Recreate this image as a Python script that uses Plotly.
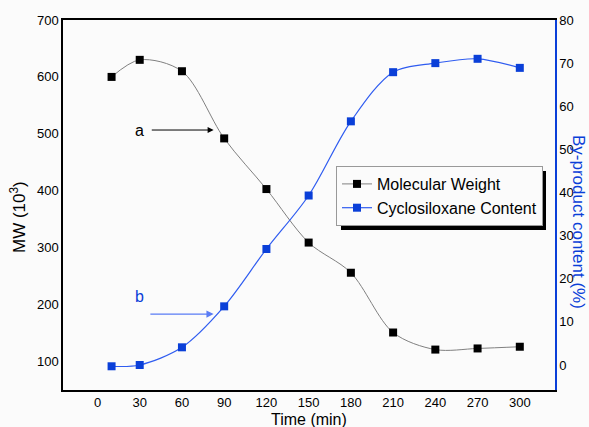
import plotly.graph_objects as go

time_min = [10, 30, 60, 90, 120, 150, 180, 210, 240, 270, 300]
mw = [600, 630, 610, 492, 403, 309, 256, 151, 121, 123, 126]
cyclo = [-0.3, 0, 4.1, 13.6, 26.9, 39.3, 56.5, 67.9, 70, 71, 68.9]

x_ticks = [0, 30, 60, 90, 120, 150, 180, 210, 240, 270, 300]
y1_ticks = [100, 200, 300, 400, 500, 600, 700]
y2_ticks = [0, 10, 20, 30, 40, 50, 60, 70, 80]

FONT = "Liberation Sans, Arial, sans-serif"
BLUE = "#0a3fd8"
BLUE_LINE = "#2f5cf0"

fig = go.Figure()
fig.add_trace(go.Scatter(
    x=time_min, y=mw, name="Molecular Weight", mode="lines+markers",
    line=dict(color="#808080", width=1, shape="spline", smoothing=0.9),
    marker=dict(symbol="square", size=8, color="black"),
    yaxis="y"))
fig.add_trace(go.Scatter(
    x=time_min, y=cyclo, name="Cyclosiloxane Content", mode="lines+markers",
    line=dict(color=BLUE_LINE, width=1.2, shape="spline", smoothing=0.9),
    marker=dict(symbol="square", size=8, color=BLUE),
    yaxis="y2"))

L, R, T, B = 63, 34, 20, 37
W, H = 589, 427
pw, ph = W - L - R, H - T - B

def px(xpix):
    return (xpix - L) / pw

def py(ypix):
    return (H - B - ypix) / ph

fig.update_layout(
    width=W, height=H,
    margin=dict(l=L, r=R, t=T, b=B),
    paper_bgcolor="#fbfbfb", plot_bgcolor="#fbfbfb",
    font=dict(family=FONT, size=13, color="black"),
    showlegend=True,
    legend=dict(x=px(336), y=py(166), xanchor="left", yanchor="top",
                bgcolor="#fbfbfb", bordercolor="#999999", borderwidth=1,
                font=dict(size=16, family=FONT), tracegroupgap=0,
                itemwidth=30),
    xaxis=dict(range=[-24.5, 325], tickvals=x_ticks, showgrid=False,
               zeroline=False, showline=True, linecolor="black", linewidth=1.5,
               mirror=True, ticks="", tickfont=dict(size=13)),
    yaxis=dict(range=[50, 700], tickvals=y1_ticks, showgrid=False,
               zeroline=False, showline=True, linecolor="black", linewidth=1.5,
               ticks="", tickfont=dict(size=13)),
    yaxis2=dict(range=[-5.8, 80], tickvals=y2_ticks, overlaying="y", side="right",
                showgrid=False, zeroline=False, showline=True, linecolor=BLUE,
                linewidth=1.5, ticks="", tickfont=dict(size=13)),
)

# legend shadow
fig.add_shape(type="rect", xref="paper", yref="paper",
              x0=px(341), x1=px(546), y0=py(230), y1=py(171),
              fillcolor="black", line=dict(width=0), layer="above")

# axis titles
fig.add_annotation(text="Time (min)", xref="paper", yref="paper",
                   x=0.5, y=py(419), xanchor="center", yanchor="middle",
                   showarrow=False, font=dict(size=16, family=FONT))
fig.add_annotation(text="MW (10<sup>3</sup>)", xref="paper", yref="paper",
                   x=px(18), y=py(217), xanchor="center", yanchor="middle",
                   textangle=-90, showarrow=False,
                   font=dict(size=17, family=FONT))
fig.add_annotation(text="By-product content (%)", xref="paper", yref="paper",
                   x=px(579), y=py(222), xanchor="center", yanchor="middle",
                   textangle=90, showarrow=False,
                   font=dict(size=17, family=FONT, color=BLUE))

# a / b labels with arrows
fig.add_annotation(text="", x=82.5, y=506.7, xref="x", yref="y",
                   ax=37.5, ay=506.7, axref="x", ayref="y",
                   showarrow=True, arrowhead=2, arrowsize=1.2, arrowwidth=1,
                   arrowcolor="black")
fig.add_annotation(text="a", x=29.5, y=506.7, xref="x", yref="y",
                   xanchor="center", yanchor="middle",
                   showarrow=False, font=dict(size=16, family=FONT))
fig.add_annotation(text="", x=82.5, y=11.8, xref="x", yref="y2",
                   ax=36.5, ay=11.8, axref="x", ayref="y2",
                   showarrow=True, arrowhead=2, arrowsize=1.2, arrowwidth=1.2,
                   arrowcolor="#5a7cf5")
fig.add_annotation(text="b", x=29.5, y=15.8, xref="x", yref="y2",
                   xanchor="center", yanchor="middle",
                   showarrow=False, font=dict(size=16, family=FONT, color=BLUE))

fig.write_html("out.html")
